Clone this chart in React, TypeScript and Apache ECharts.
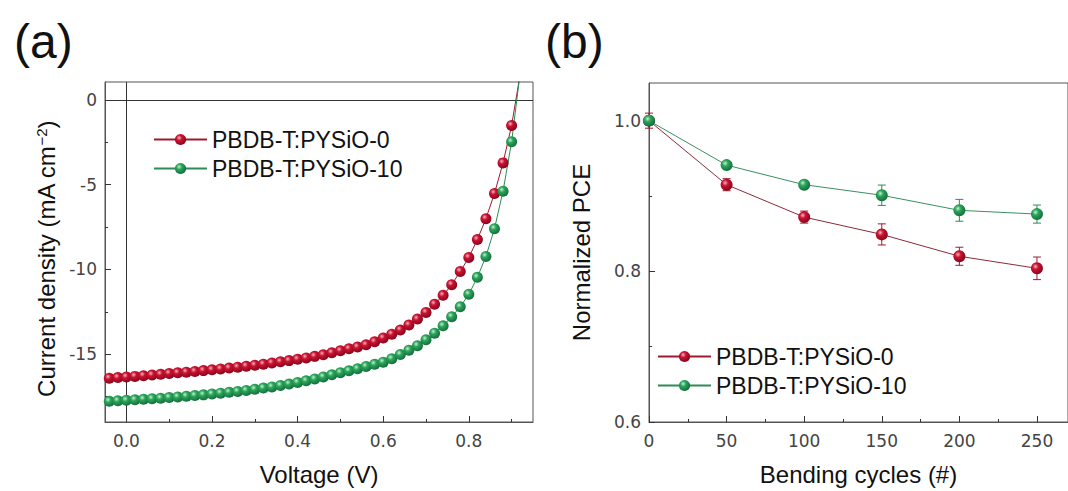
import React, { useEffect, useRef } from "react";
import * as echarts from "echarts";

// ---------- (a) J-V data ----------
const voltage = [
  -0.04, -0.02, 0.0, 0.02, 0.04, 0.06, 0.08, 0.1, 0.12, 0.14, 0.16, 0.18, 0.2, 0.22, 0.24, 0.26, 0.28,
  0.3, 0.32, 0.34, 0.36, 0.38, 0.4, 0.42, 0.44, 0.46, 0.48, 0.5, 0.52, 0.54, 0.56, 0.58, 0.6, 0.62,
  0.64, 0.66, 0.68, 0.7, 0.72, 0.74, 0.76, 0.78, 0.8, 0.82, 0.84, 0.86, 0.88, 0.9, 0.92,
];
const jPYSiO0 = [
  -16.42, -16.38, -16.35, -16.31, -16.27, -16.23, -16.19, -16.14, -16.1, -16.06, -16.02, -15.97, -15.92,
  -15.87, -15.82, -15.77, -15.71, -15.65, -15.59, -15.52, -15.45, -15.38, -15.3, -15.22, -15.13, -15.04,
  -14.92, -14.8, -14.68, -14.58, -14.45, -14.27, -14.05, -13.82, -13.57, -13.28, -12.93, -12.54, -12.05,
  -11.53, -10.9, -10.12, -9.3, -8.24, -7.01, -5.52, -3.72, -1.51, 1.5,
];
const jPYSiO10 = [
  -17.78, -17.75, -17.72, -17.69, -17.66, -17.63, -17.6, -17.56, -17.52, -17.48, -17.44, -17.4, -17.35,
  -17.3, -17.25, -17.2, -17.14, -17.07, -17.0, -16.93, -16.85, -16.76, -16.67, -16.57, -16.46, -16.34,
  -16.22, -16.09, -15.98, -15.86, -15.73, -15.6, -15.47, -15.27, -15.02, -14.77, -14.5, -14.15, -13.76,
  -13.33, -12.79, -12.21, -11.47, -10.47, -9.24, -7.6, -5.39, -2.48, 1.6,
];
const voltageTicks = [0, 0.2, 0.4, 0.6, 0.8];
const voltageMinorTicks = [0.1, 0.3, 0.5, 0.7, 0.9];
const currentTicks = [0, -5, -10, -15];
const currentMinorTicks = [-2.5, -7.5, -12.5, -17.5];

// ---------- (b) bending data ----------
const cycles = [0, 50, 100, 150, 200, 250];
const pce0 = [1.0, 0.915, 0.872, 0.849, 0.82, 0.804];
const pce0Err = [0.01, 0.008, 0.008, 0.014, 0.012, 0.015];
const pce10 = [1.0, 0.941, 0.915, 0.901, 0.881, 0.876];
const pce10Err = [0.003, 0.003, 0.004, 0.0135, 0.0145, 0.012];
const cycleTicks = [0, 50, 100, 150, 200, 250];
const cycleMinorTicks = [25, 75, 125, 175, 225];
const pceTicks = [0.6, 0.8, 1.0];
const pceMinorTicks = [0.7, 0.9];

const seriesNames = ["PBDB-T:PYSiO-0", "PBDB-T:PYSiO-10"];

const FONT = "'Liberation Sans', Arial, sans-serif";
const TICKFONT = "'DejaVu Sans', 'Liberation Sans', sans-serif";

const redBall = {
  type: "radial",
  x: 0.38,
  y: 0.35,
  r: 0.7,
  colorStops: [
    { offset: 0, color: "#f6b3bd" },
    { offset: 0.35, color: "#cc1232" },
    { offset: 1, color: "#7e0519" },
  ],
};
const greenBall = {
  type: "radial",
  x: 0.38,
  y: 0.35,
  r: 0.7,
  colorStops: [
    { offset: 0, color: "#c4efd2" },
    { offset: 0.35, color: "#2aa65a" },
    { offset: 1, color: "#13683a" },
  ],
};

function majorAxis(gridIndex: number, min: number, max: number, ticks: number[], fmt: (v: number) => string, extra: any = {}) {
  return {
    type: "value",
    gridIndex,
    min,
    max,
    axisLine: { show: true, onZero: false, lineStyle: { color: "#555", width: 1 } },
    axisTick: { show: true, inside: true, length: 6, customValues: ticks, lineStyle: { color: "#333", width: 1 } },
    axisLabel: {
      show: true,
      customValues: ticks,
      formatter: fmt,
      fontFamily: TICKFONT,
      fontSize: 17,
      color: "#444",
      margin: 10,
    },
    splitLine: { show: false },
    nameLocation: "middle",
    nameTextStyle: { fontFamily: FONT, fontSize: 24, color: "#111", verticalAlign: "middle" },
    ...extra,
  };
}
function minorAxis(gridIndex: number, min: number, max: number, ticks: number[], position: string) {
  return {
    type: "value",
    gridIndex,
    min,
    max,
    position,
    axisLine: { show: false, onZero: false },
    axisTick: { show: true, inside: true, length: 3, customValues: ticks, lineStyle: { color: "#333", width: 1 } },
    axisLabel: { show: false },
    splitLine: { show: false },
  };
}

function errorBarSeries(xIdx: number, yIdx: number, xs: number[], ys: number[], es: number[], color: string) {
  return {
    type: "custom",
    xAxisIndex: xIdx,
    yAxisIndex: yIdx,
    silent: true,
    z: 1,
    data: xs.map((x, i) => [x, ys[i] - es[i], ys[i] + es[i]]),
    encode: { x: 0, y: [1, 2] },
    renderItem: (params: any, api: any) => {
      const x = api.value(0);
      const lo = api.coord([x, api.value(1)]);
      const hi = api.coord([x, api.value(2)]);
      const w = 4;
      const st = { stroke: color, lineWidth: 1 };
      return {
        type: "group",
        children: [
          { type: "line", shape: { x1: lo[0], y1: lo[1], x2: hi[0], y2: hi[1] }, style: st },
          { type: "line", shape: { x1: lo[0] - w, y1: lo[1], x2: lo[0] + w, y2: lo[1] }, style: st },
          { type: "line", shape: { x1: hi[0] - w, y1: hi[1], x2: hi[0] + w, y2: hi[1] }, style: st },
        ],
      };
    },
  };
}

export default function App() {
  const ref = useRef<HTMLDivElement>(null);
  useEffect(() => {
    if (!ref.current) return;
    const chart = echarts.init(ref.current, null, { renderer: "svg" });
    const legendText = { fontFamily: FONT, fontSize: 23, color: "#111", lineHeight: 25 };
    const option: any = {
      animation: false,
      backgroundColor: "#ffffff",
      textStyle: { fontFamily: FONT },
      title: [
        { text: "(a)", left: 9, top: 12, textStyle: { fontFamily: FONT, fontSize: 48, fontWeight: "normal", color: "#111" } },
        { text: "(b)", left: 540, top: 12, textStyle: { fontFamily: FONT, fontSize: 48, fontWeight: "normal", color: "#111" } },
      ],
      grid: [
        { left: 105, top: 82, width: 428, height: 345, show: true, borderColor: "#555", borderWidth: 1, backgroundColor: "transparent" },
        { left: 649, top: 83, width: 428, height: 344, show: true, borderColor: "#555", borderWidth: 1, backgroundColor: "transparent" },
      ],
      legend: [
        {
          data: seriesNames,
          orient: "vertical",
          left: 153,
          top: 127,
          padding: 0,
          itemWidth: 53,
          itemHeight: 14,
          itemGap: 4,
          selectedMode: false,
          textStyle: legendText,
        },
        {
          data: seriesNames,
          orient: "vertical",
          left: 657,
          top: 344,
          padding: 0,
          itemWidth: 53,
          itemHeight: 14,
          itemGap: 4,
          selectedMode: false,
          textStyle: legendText,
        },
      ],
      xAxis: [
        majorAxis(0, -0.05, 0.95, voltageTicks, (v: number) => v.toFixed(1), { name: "Voltage (V)", nameGap: 52, position: "bottom" }),
        minorAxis(0, -0.05, 0.95, voltageMinorTicks, "bottom"),
        majorAxis(1, 0, 270, cycleTicks, (v: number) => String(v), { name: "Bending cycles (#)", nameGap: 52, position: "bottom" }),
        minorAxis(1, 0, 270, cycleMinorTicks, "bottom"),
      ],
      yAxis: [
        majorAxis(0, -19, 1.05, currentTicks, (v: number) => String(v), {
          name: "Current density (mA cm{sup|−2})",
          nameGap: 59,
          position: "left",
          axisLabel: {
            show: true,
            customValues: currentTicks,
            formatter: (v: number) => String(v),
            fontFamily: TICKFONT,
            fontSize: 17,
            color: "#444",
            margin: 8,
          },
          nameTextStyle: {
            fontFamily: FONT,
            fontSize: 24,
            color: "#111",
            verticalAlign: "middle",
            padding: [0, 14, 0, 0],
            rich: { sup: { fontFamily: FONT, fontSize: 15, color: "#111", verticalAlign: "top", lineHeight: 15 } },
          },
        }),
        minorAxis(0, -19, 1.05, currentMinorTicks, "left"),
        majorAxis(1, 0.6, 1.05, pceTicks, (v: number) => v.toFixed(1), {
          name: "Normalized PCE",
          nameGap: 68,
          position: "left",
          axisLabel: {
            show: true,
            customValues: pceTicks,
            formatter: (v: number) => v.toFixed(1),
            fontFamily: TICKFONT,
            fontSize: 17,
            color: "#444",
            margin: 8,
          },
        }),
        minorAxis(1, 0.6, 1.05, pceMinorTicks, "left"),
      ],
      series: [
        {
          name: seriesNames[0],
          type: "line",
          xAxisIndex: 0,
          yAxisIndex: 0,
          data: voltage.map((v, i) => [v, jPYSiO0[i]]),
          symbol: "circle",
          symbolSize: 11,
          showSymbol: true,
          clip: true,
          z: 3,
          lineStyle: { color: "#9b1b30", width: 1 },
          itemStyle: { color: redBall as any },
          markLine: {
            silent: true,
            symbol: ["none", "none"],
            label: { show: false },
            lineStyle: { color: "#333", width: 1, type: "solid" },
            data: [{ yAxis: 0 }, { xAxis: 0 }],
            z: 1,
          },
        },
        {
          name: seriesNames[1],
          type: "line",
          xAxisIndex: 0,
          yAxisIndex: 0,
          data: voltage.map((v, i) => [v, jPYSiO10[i]]),
          symbol: "circle",
          symbolSize: 11,
          showSymbol: true,
          clip: true,
          z: 3,
          lineStyle: { color: "#2e8b57", width: 1 },
          itemStyle: { color: greenBall as any },
        },
        errorBarSeries(2, 2, cycles, pce0, pce0Err, "#9b1b30"),
        errorBarSeries(2, 2, cycles, pce10, pce10Err, "#2e8b57"),
        {
          name: seriesNames[0],
          type: "line",
          xAxisIndex: 2,
          yAxisIndex: 2,
          data: cycles.map((c, i) => [c, pce0[i]]),
          symbol: "circle",
          symbolSize: 12,
          showSymbol: true,
          z: 3,
          lineStyle: { color: "#8b2a3a", width: 1 },
          itemStyle: { color: redBall as any },
        },
        {
          name: seriesNames[1],
          type: "line",
          xAxisIndex: 2,
          yAxisIndex: 2,
          data: cycles.map((c, i) => [c, pce10[i]]),
          symbol: "circle",
          symbolSize: 12,
          showSymbol: true,
          z: 4,
          lineStyle: { color: "#3a8f60", width: 1 },
          itemStyle: { color: greenBall as any },
        },
      ],
    };
    chart.setOption(option);
    return () => chart.dispose();
  }, []);
  return (
    <div
      ref={ref}
      style={{ position: "fixed", left: 0, top: 0, width: 1068, height: 491, background: "#fff" }}
    />
  );
}
